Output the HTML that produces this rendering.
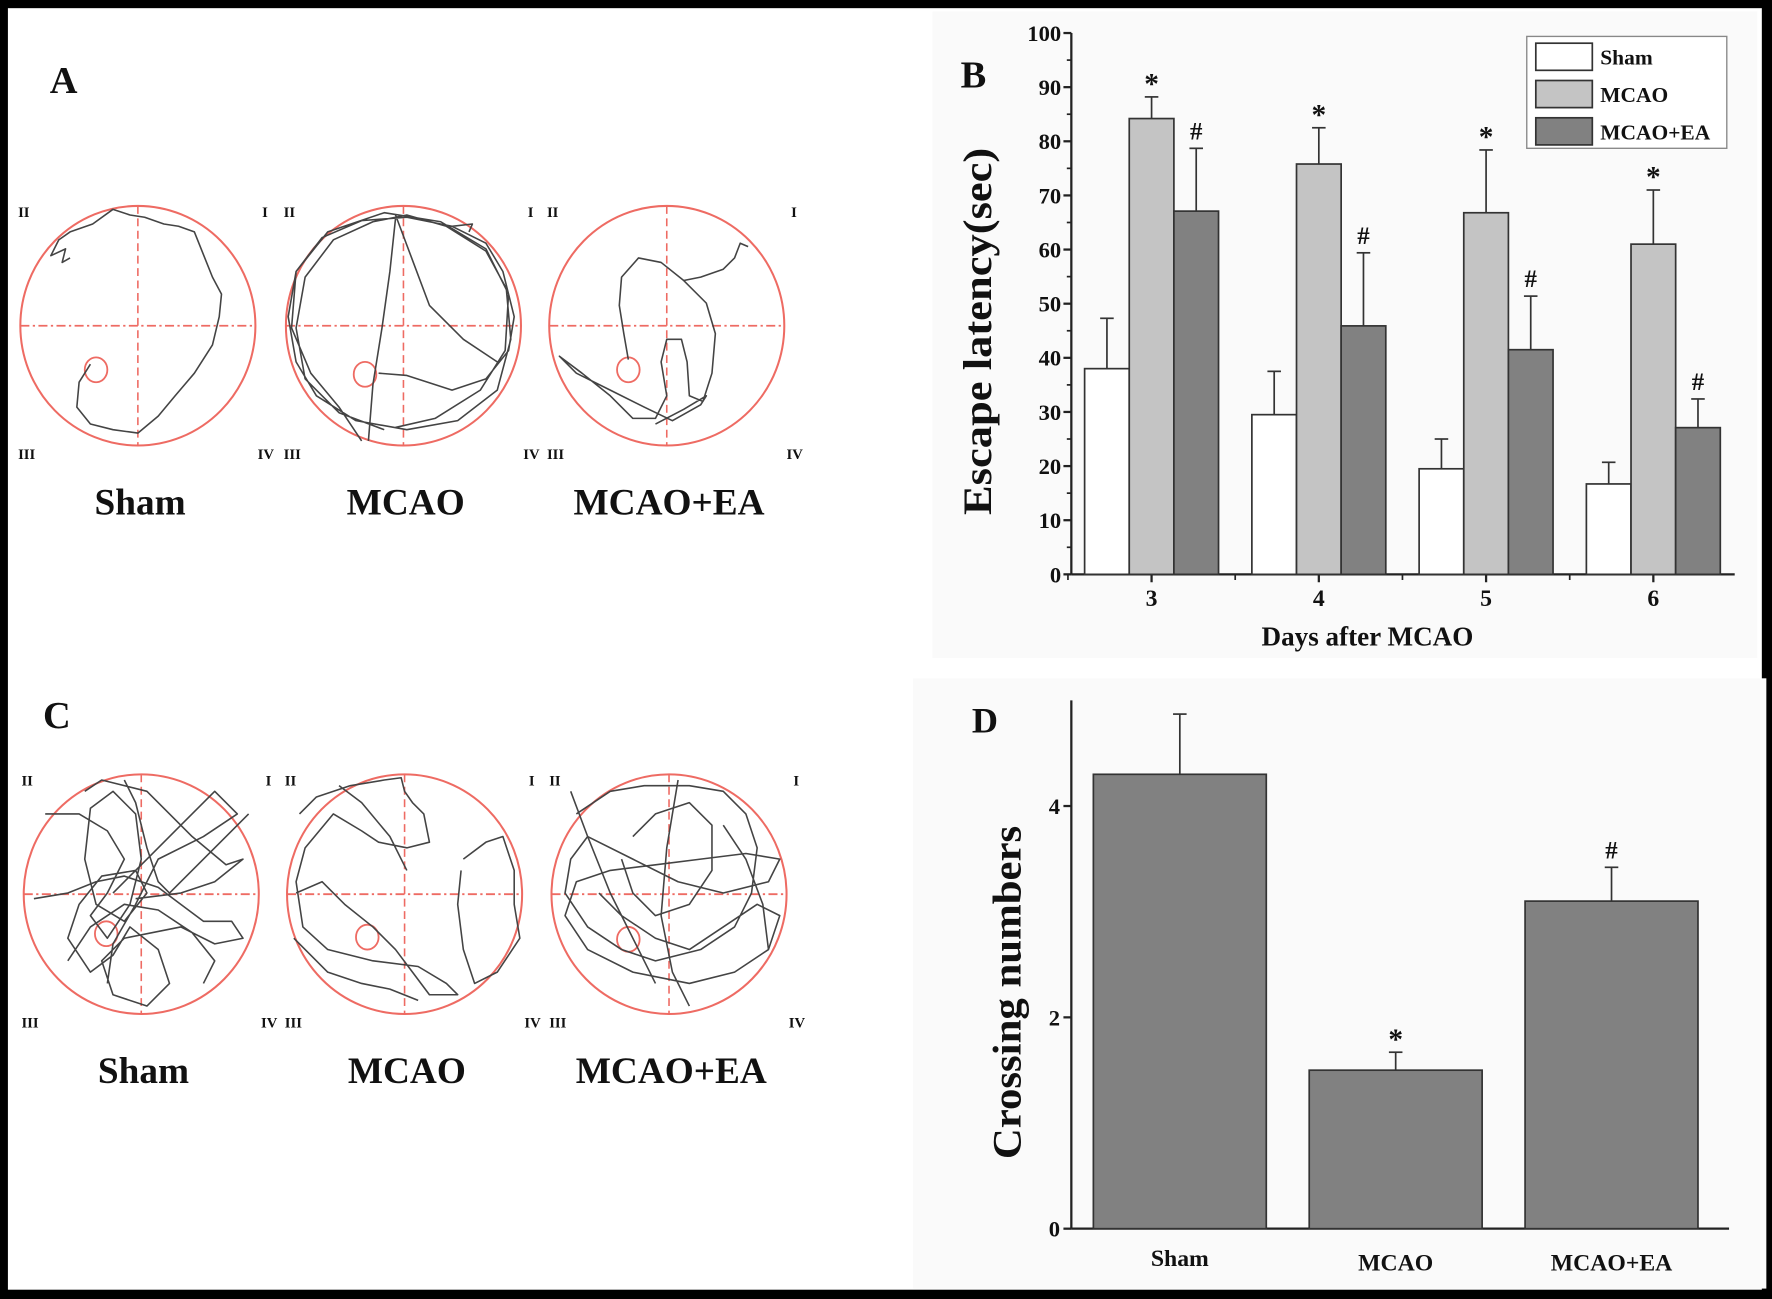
<!DOCTYPE html>
<html><head><meta charset="utf-8">
<style>
html,body{margin:0;padding:0;background:#000;}
svg{display:block;}
text{font-family:"Liberation Serif",serif;font-weight:bold;fill:#111;}
</style></head>
<body>
<svg id="fig" width="1772" height="1299" viewBox="0 0 1568 1149" xmlns="http://www.w3.org/2000/svg">
<rect x="0" y="0" width="1568" height="1149" fill="#000"/>
<rect x="7" y="7" width="1552" height="1134" fill="#fff"/>
<rect x="825" y="10" width="730" height="572" fill="#fafafa"/>
<rect x="808" y="600" width="755" height="540" fill="#fafafa"/>

<!-- Panel labels -->
<text x="44" y="82" font-size="34">A</text>
<text x="850" y="77" font-size="34">B</text>
<text x="38" y="644" font-size="34">C</text>
<text x="860" y="648" font-size="32">D</text>

<g id="pools"></g>

<g id="chartB"></g>
<g id="chartD"></g>
</svg>
<script>
const NS="http://www.w3.org/2000/svg";
function mk(parent,tag,attrs,txt){const e=document.createElementNS(NS,tag);for(const k in attrs)e.setAttribute(k,attrs[k]);if(txt!==undefined)e.textContent=txt;parent.appendChild(e);return e;}

/* ---------- Pools (panels A and C) ---------- */
const pools=document.getElementById('pools');
const poolCenters=[[122,288,'Sham',85,327],[357,288,'MCAO',323,331],[590,288,'MCAO+EA',556,327],
                   [125,791,'Sham',94,826],[358,791,'MCAO',325,829],[592,791,'MCAO+EA',556,831]];
const tracks=[
 "M80,322 L70,338 L68,360 L80,375 L100,380 L122,383 L140,368 L155,350 L172,330 L188,305 L194,280 L196,260 L188,245 L180,225 L172,205 L158,200 L145,198 L128,192 L115,190 L100,185 L82,198 L62,205 L52,212 L45,226 L58,220 L55,232 L62,228",
 "M335,330 L360,332 L400,345 L430,335 L450,310 L455,280 L445,240 L430,215 L400,200 L360,192 L320,195 L285,210 L262,240 L255,280 L262,320 L280,350 L315,372 L360,380 L405,372 L440,345 L452,300 L448,255 L430,222 L395,200 L360,190 L330,196 L295,212 L270,245 L262,290 L270,335 L300,365 L340,380 M320,390 L300,360 L275,330 L258,290 L262,240 L290,205 L340,188 L390,196 L430,220 L450,260 L447,310 L425,345 L385,370 L350,378 M350,193 L345,240 L338,290 L330,340 L326,390 M350,190 L365,230 L380,270 L410,300 L440,320 M400,200 L418,198 L415,205",
 "M556,318 L552,295 L548,270 L550,245 L565,228 L585,232 L605,248 L625,268 L633,295 L630,330 L622,355 L610,350 L608,320 L603,300 L590,300 L585,320 L590,350 L580,370 L560,370 L540,350 L515,330 L495,315 L510,330 L540,345 L570,360 L595,372 L620,358 L625,350 L605,362 L580,375 M605,248 L620,245 L640,238 L650,228 L655,215 L662,218",
 "M40,720 L70,720 L95,735 L110,760 L95,790 L80,810 L95,830 L115,800 L125,760 L120,720 L100,700 L80,715 L75,760 L85,800 L110,815 L130,790 L120,770 L90,775 L70,800 L60,830 L80,860 L100,845 L115,820 L140,840 L150,870 L130,890 L100,880 L90,850 L110,830 L160,820 L190,835 L215,830 L205,815 L180,815 L160,800 L140,785 L110,775 L85,780 L60,790 L30,795 M100,790 L130,760 L160,730 L190,700 L210,720 L180,740 L140,760 L120,800 L100,835 L95,870 M60,850 L80,820 L110,800 L140,805 L170,825 L190,850 L180,870 M75,700 L90,690 L130,700 L150,720 L170,740 L200,765 L215,760 L190,780 L160,790 L120,795 M110,690 L120,710 L130,750 L140,780 L150,790 L170,770 L200,740 L220,720",
 "M265,720 L280,705 L310,695 L340,690 L355,688 L358,700 L365,710 L375,720 L380,745 L360,750 L335,745 L320,735 L295,720 L270,750 L262,780 L268,820 L290,840 L330,850 L370,855 L395,870 L405,880 L380,880 L365,860 L350,840 L330,820 L305,800 L285,780 L262,790 M410,760 L430,745 L445,740 L455,770 L455,800 L460,830 L440,860 L420,870 L410,840 L405,800 L408,770 M260,830 L290,860 L320,870 L345,875 L370,885 M300,695 L320,710 L345,740 L360,770",
 "M510,720 L540,700 L570,695 L610,695 L640,700 L660,720 L670,750 L665,790 L650,820 L620,840 L580,850 L550,840 L520,820 L500,790 L505,760 L520,740 L560,760 L600,780 L640,790 L680,780 L690,760 L660,755 L620,760 L580,765 L540,770 L510,780 L500,810 L520,840 L560,860 L610,870 L650,860 L680,840 L690,810 L670,800 L640,820 L610,840 L580,830 L550,810 L530,790 M560,740 L580,720 L610,710 L630,730 L630,770 L610,800 L580,810 L560,790 L550,760 M600,690 L590,750 L585,810 L595,860 L610,890 M640,730 L660,760 L675,800 L680,840 M505,700 L520,740 L540,790 L560,830 L580,870"
];
poolCenters.forEach((p,i)=>{
  const g=mk(pools,'g',{});
  
  
  const [cx,cy]=p;
  mk(g,'ellipse',{cx:cx,cy:cy,rx:104,ry:106,fill:'none',stroke:'#ee6b63','stroke-width':1.8});
  mk(g,'line',{x1:cx-104,y1:cy,x2:cx+104,y2:cy,stroke:'#ee6b63','stroke-width':1.6,'stroke-dasharray':'8 3 2 3'});
  mk(g,'line',{x1:cx,y1:cy-106,x2:cx,y2:cy+106,stroke:'#ee6b63','stroke-width':1.4,'stroke-dasharray':'7 4'});
  mk(g,'ellipse',{cx:p[3],cy:p[4],rx:10,ry:11,fill:'none',stroke:'#ee6b63','stroke-width':1.6});
  mk(g,'path',{d:tracks[i],fill:'none',stroke:'#444','stroke-width':1.4,'stroke-linejoin':'round'});
  const fs={'font-size':13,'font-family':'Liberation Serif, serif','font-weight':'normal'};
  mk(g,'text',Object.assign({x:cx-106,y:cy-96},fs),'II');
  mk(g,'text',Object.assign({x:cx+110,y:cy-96},fs),'I');
  mk(g,'text',Object.assign({x:cx-106,y:cy+118},fs),'III');
  mk(g,'text',Object.assign({x:cx+106,y:cy+118},fs),'IV');
  const t=mk(g,'text',{x:cx+2,y:cy+167,'font-size':33,'text-anchor':'middle'},p[2]);
  
  
});

/* ---------- Chart B data ---------- */
const daysB=['3','4','5','6'];
const shamB=[38,29.5,19.5,16.7];
const shamErrB=[9.3,8,5.5,4];
const mcaoB=[84.2,75.8,66.8,61];
const mcaoErrB=[4,6.7,11.6,10];
const eaB=[67.1,45.9,41.5,27.1];
const eaErrB=[11.6,13.5,9.9,5.3];
const yTicksB=[0,10,20,30,40,50,60,70,80,90,100];

const gB=document.getElementById('chartB');
const bx0=948,bx1=1535,by0=508,by100=29;
const yB=v=>by0-(by0-by100)*v/100;
const xB=i=>1019+148*i;
const bwB=39.5;
mk(gB,'line',{x1:bx0,y1:by0,x2:bx0,y2:by100,stroke:'#222','stroke-width':2});
mk(gB,'line',{x1:bx0,y1:by0,x2:bx1,y2:by0,stroke:'#222','stroke-width':2});
yTicksB.forEach(v=>{
  mk(gB,'line',{x1:bx0-7,y1:yB(v),x2:bx0,y2:yB(v),stroke:'#222','stroke-width':2});
  if(v<100) mk(gB,'line',{x1:bx0-4,y1:yB(v+5),x2:bx0,y2:yB(v+5),stroke:'#222','stroke-width':1.5});
  const t=mk(gB,'text',{x:bx0-9,y:yB(v)+7,'font-size':20,'text-anchor':'end'},String(v));
  
  
});
const series=[[shamB,shamErrB,'#ffffff',-1,'sham',''],[mcaoB,mcaoErrB,'#c4c4c4',0,'mcao','*'],[eaB,eaErrB,'#818181',1,'mcao-ea','#']];
daysB.forEach((d,i)=>{
  mk(gB,'line',{x1:xB(i)-74,y1:by0,x2:xB(i)-74,y2:by0+5,stroke:'#222','stroke-width':1.5});
  mk(gB,'line',{x1:xB(i),y1:by0,x2:xB(i),y2:by0+7,stroke:'#222','stroke-width':2});
  const t=mk(gB,'text',{x:xB(i),y:by0+28,'font-size':21,'text-anchor':'middle'},d);
  
  
  series.forEach(s=>{
    const v=s[0][i],e=s[1][i],cx=xB(i)+s[3]*bwB;
    const top=yB(v+e);
    mk(gB,'line',{x1:cx,y1:yB(v),x2:cx,y2:top,stroke:'#333','stroke-width':1.5});
    mk(gB,'line',{x1:cx-6,y1:top,x2:cx+6,y2:top,stroke:'#333','stroke-width':1.5});
    const r=mk(gB,'rect',{x:cx-bwB/2,y:yB(v),width:bwB,height:by0-yB(v),fill:s[2],stroke:'#333','stroke-width':1.5});
    
    
    if(s[5]) mk(gB,'text',{x:cx,y:top-(s[5]=='*'?3:8),'font-size':s[5]=='*'?26:22,'text-anchor':'middle','font-weight':s[5]=='*'?'bold':'normal'},s[5]);
  });
});
const xt=mk(gB,'text',{x:1210,y:571,'font-size':24,'text-anchor':'middle'},'Days after MCAO');


const yt=mk(gB,'text',{x:0,y:0,'font-size':36,'text-anchor':'middle',textLength:325,lengthAdjust:'spacingAndGlyphs',transform:'translate(877,293) rotate(-90)'},'Escape latency(sec)');


const leg=mk(gB,'g',{});


mk(leg,'rect',{x:1351,y:32,width:177,height:99,fill:'#fff',stroke:'#888','stroke-width':1.2});
[['Sham','#fff'],['MCAO','#c4c4c4'],['MCAO+EA','#818181']].forEach((l,k)=>{
  const yy=38+k*33;
  mk(leg,'rect',{x:1359,y:yy,width:50,height:24,fill:l[1],stroke:'#333','stroke-width':1.5});
  const t=mk(leg,'text',{x:1416,y:yy+19,'font-size':19},l[0]);
  
  
});

/* ---------- Chart D data ---------- */
const groupsD=['Sham','MCAO','MCAO+EA'];
const valuesD=[4.3,1.5,3.1];
const errD=[0.57,0.17,0.32];
const yTicksD=[0,2,4];
const markD=['','*','#'];

const gD=document.getElementById('chartD');
const dx0=948,dx1=1530,dy0=1087,dyPer=93.5;
const yD=v=>dy0-dyPer*v;
const xD=i=>1044+191*i;
const bwD=153;
mk(gD,'line',{x1:dx0,y1:dy0,x2:dx0,y2:yD(5),stroke:'#222','stroke-width':2});
mk(gD,'line',{x1:dx0,y1:dy0,x2:dx1,y2:dy0,stroke:'#222','stroke-width':2});
yTicksD.forEach(v=>{
  mk(gD,'line',{x1:dx0-7,y1:yD(v),x2:dx0,y2:yD(v),stroke:'#222','stroke-width':2});
  const t=mk(gD,'text',{x:dx0-10,y:yD(v)+7,'font-size':20,'text-anchor':'end'},String(v));
  
  
});
groupsD.forEach((g,i)=>{
  const cx=xD(i),v=valuesD[i],top=yD(v+errD[i]);
  mk(gD,'line',{x1:cx,y1:yD(v),x2:cx,y2:top,stroke:'#333','stroke-width':1.5});
  mk(gD,'line',{x1:cx-6,y1:top,x2:cx+6,y2:top,stroke:'#333','stroke-width':1.5});
  const r=mk(gD,'rect',{x:cx-bwD/2,y:yD(v),width:bwD,height:dy0-yD(v),fill:'#818181',stroke:'#333','stroke-width':1.5});
  
  
  if(markD[i]) mk(gD,'text',{x:cx,y:top-(markD[i]=='*'?3:8),'font-size':markD[i]=='*'?26:22,'text-anchor':'middle','font-weight':markD[i]=='*'?'bold':'normal'},markD[i]);
  const t=mk(gD,'text',{x:cx,y:dy0+(i==0?33:37),'font-size':21,'text-anchor':'middle'},g);
  
  
});
const ytD=mk(gD,'text',{x:0,y:0,'font-size':36,'text-anchor':'middle',textLength:295,lengthAdjust:'spacingAndGlyphs',transform:'translate(903,878) rotate(-90)'},'Crossing numbers');


</script>
</body></html>
